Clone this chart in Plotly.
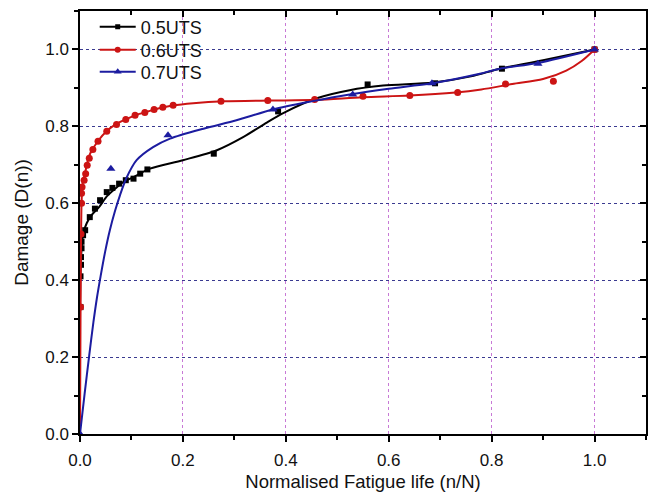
import plotly.graph_objects as go

# ---- data ----
series_names = ["0.5UTS", "0.6UTS", "0.7UTS"]

# 0.5UTS fitted curve and measured points
c05_x = [0, 0.001, 0.003, 0.006, 0.013, 0.023, 0.037, 0.052, 0.07, 0.084, 0.104, 0.136, 0.2, 0.266, 0.317, 0.363, 0.394, 0.46, 0.524, 0.589, 0.686, 0.76, 0.816, 0.9, 1.0]
c05_y = [0.33, 0.42, 0.48, 0.52, 0.548, 0.57, 0.59, 0.618, 0.64, 0.655, 0.668, 0.69, 0.712, 0.738, 0.772, 0.81, 0.834, 0.873, 0.894, 0.906, 0.914, 0.93, 0.95, 0.972, 1.0]
p05_x = [0.001, 0.001, 0.002, 0.002, 0.003, 0.003, 0.006, 0.01, 0.019, 0.029, 0.039, 0.052, 0.063, 0.076, 0.089, 0.104, 0.117, 0.131, 0.26, 0.385, 0.559, 0.69, 0.82, 1.0]
p05_y = [0.33, 0.41, 0.44, 0.46, 0.483, 0.5, 0.517, 0.53, 0.564, 0.586, 0.608, 0.629, 0.64, 0.651, 0.66, 0.664, 0.677, 0.688, 0.729, 0.839, 0.909, 0.912, 0.95, 1.0]

# 0.6UTS
c06_x = [0, 0.001, 0.002, 0.003, 0.005, 0.01, 0.015, 0.02, 0.035, 0.052, 0.07, 0.09, 0.11, 0.13, 0.15, 0.18, 0.22, 0.28, 0.37, 0.46, 0.55, 0.64, 0.73, 0.78, 0.84, 0.9, 0.945, 0.975, 1.0]
c06_y = [0, 0.3, 0.5, 0.6, 0.65, 0.68, 0.71, 0.73, 0.762, 0.788, 0.806, 0.819, 0.83, 0.838, 0.846, 0.854, 0.86, 0.865, 0.867, 0.869, 0.876, 0.88, 0.888, 0.896, 0.91, 0.923, 0.945, 0.97, 1.0]
p06_x = [0.001, 0.002, 0.003, 0.003, 0.004, 0.008, 0.011, 0.014, 0.018, 0.025, 0.035, 0.052, 0.071, 0.089, 0.107, 0.126, 0.144, 0.161, 0.181, 0.274, 0.365, 0.456, 0.55, 0.641, 0.734, 0.827, 0.92, 1.0]
p06_y = [0.33, 0.52, 0.6, 0.626, 0.642, 0.66, 0.677, 0.699, 0.717, 0.74, 0.761, 0.787, 0.805, 0.818, 0.829, 0.836, 0.844, 0.85, 0.855, 0.865, 0.867, 0.87, 0.878, 0.88, 0.888, 0.91, 0.917, 1.0]

# 0.7UTS
c07_x = [0, 0.009, 0.018, 0.026, 0.033, 0.04, 0.049, 0.058, 0.068, 0.078, 0.09, 0.11, 0.142, 0.175, 0.24, 0.304, 0.375, 0.45, 0.524, 0.6, 0.684, 0.777, 0.816, 0.89, 1.0]
c07_y = [0, 0.105, 0.205, 0.29, 0.355, 0.41, 0.475, 0.53, 0.58, 0.622, 0.665, 0.712, 0.746, 0.768, 0.794, 0.816, 0.844, 0.865, 0.883, 0.898, 0.912, 0.937, 0.95, 0.965, 1.0]
p07_x = [0, 0.06, 0.171, 0.375, 0.53, 0.684, 0.89, 1.0]
p07_y = [0, 0.69, 0.777, 0.844, 0.883, 0.912, 0.963, 1.0]

x_ticks = [0.0, 0.2, 0.4, 0.6, 0.8, 1.0]
y_ticks = [0.0, 0.2, 0.4, 0.6, 0.8, 1.0]

colors = ["#000000", "#cc1414", "#1c1ca0"]
symbols = ["square", "circle", "triangle-up"]
msizes = [6, 7, 8]
legend_ids = ["legend", "legend2", "legend3"]
legend_y = [0.962, 0.9078, 0.8558]

curves = [(c05_x, c05_y), (c06_x, c06_y), (c07_x, c07_y)]
points = [(p05_x, p05_y), (p06_x, p06_y), (p07_x, p07_y)]

fig = go.Figure()
for i, name in enumerate(series_names):
    cx, cy = curves[i]
    px, py = points[i]
    fig.add_trace(go.Scatter(x=cx, y=cy, mode="lines", showlegend=False,
                             line=dict(color=colors[i], width=2, shape="spline", smoothing=0.8),
                             hoverinfo="skip"))
    fig.add_trace(go.Scatter(x=px, y=py, mode="markers", showlegend=False,
                             marker=dict(color=colors[i], symbol=symbols[i], size=msizes[i])))
    fig.add_trace(go.Scatter(x=[None], y=[None], mode="lines+markers", name=name,
                             legend=legend_ids[i],
                             line=dict(color=colors[i], width=2),
                             marker=dict(color=colors[i], symbol=symbols[i], size=msizes[i] - 1)))

font_family = "Liberation Sans, Arial, sans-serif"

leg_common = dict(x=0.026, xanchor="left", yanchor="middle",
                  bgcolor="rgba(255,255,255,0)", font=dict(size=18, color="#111111"),
                  itemwidth=36)
layout_legends = {}
for i, lid in enumerate(legend_ids):
    layout_legends[lid] = dict(leg_common, y=legend_y[i])

fig.update_layout(
    width=654, height=494,
    margin=dict(l=80, r=8, t=11, b=60),
    paper_bgcolor="white", plot_bgcolor="white",
    font=dict(family=font_family, size=17, color="#111111"),
    **layout_legends,
    xaxis=dict(range=[0, 1.1], tickvals=x_ticks, ticktext=[f"{v:.1f}" for v in x_ticks],
               ticks="outside", ticklen=6, tickwidth=1.5, tickcolor="black",
               ticklabelstandoff=4,
               minor=dict(dtick=0.1, tick0=0, ticks="outside", ticklen=4, tickwidth=1.5, tickcolor="black", showgrid=False),
               showline=True, linecolor="black", linewidth=1.5,
               showgrid=True, gridcolor="#c879d6", griddash="dot", gridwidth=1.2,
               zeroline=False, automargin=False,
               title=dict(text="Normalised Fatigue life (n/N)", font=dict(size=18.5), standoff=6)),
    yaxis=dict(range=[0, 1.1], tickvals=y_ticks, ticktext=[f"{v:.1f}" for v in y_ticks],
               ticks="outside", ticklen=6, tickwidth=1.5, tickcolor="black",
               minor=dict(dtick=0.1, tick0=0, ticks="outside", ticklen=4, tickwidth=1.5, tickcolor="black", showgrid=False),
               showline=True, linecolor="black", linewidth=1.5,
               showgrid=True, gridcolor="#3a3a90", griddash="dot", gridwidth=1.3,
               zeroline=False, automargin=False,
               title=dict(text="Damage (D(n))", font=dict(size=19), standoff=12)),
    xaxis2=dict(range=[0, 1.1], overlaying="x", side="top", tickvals=x_ticks, showticklabels=False,
                ticks="inside", ticklen=6, tickwidth=1.5, tickcolor="black",
                minor=dict(dtick=0.1, tick0=0, ticks="inside", ticklen=4, tickwidth=1.5, tickcolor="black"),
                showline=True, linecolor="black", linewidth=1.5, showgrid=False, zeroline=False),
    yaxis2=dict(range=[0, 1.1], overlaying="y", side="right", tickvals=y_ticks, showticklabels=False,
                ticks="inside", ticklen=6, tickwidth=1.5, tickcolor="black",
                minor=dict(dtick=0.1, tick0=0, ticks="inside", ticklen=4, tickwidth=1.5, tickcolor="black"),
                showline=True, linecolor="black", linewidth=1.5, showgrid=False, zeroline=False),
)
# dummy trace to activate the mirrored axes
fig.add_trace(go.Scatter(x=[None], y=[None], xaxis="x2", yaxis="y2", showlegend=False, hoverinfo="skip"))

fig.write_html("out.html", config={"displayModeBar": False},
               post_script="document.body.style.margin='0';document.body.style.overflow='hidden';")
